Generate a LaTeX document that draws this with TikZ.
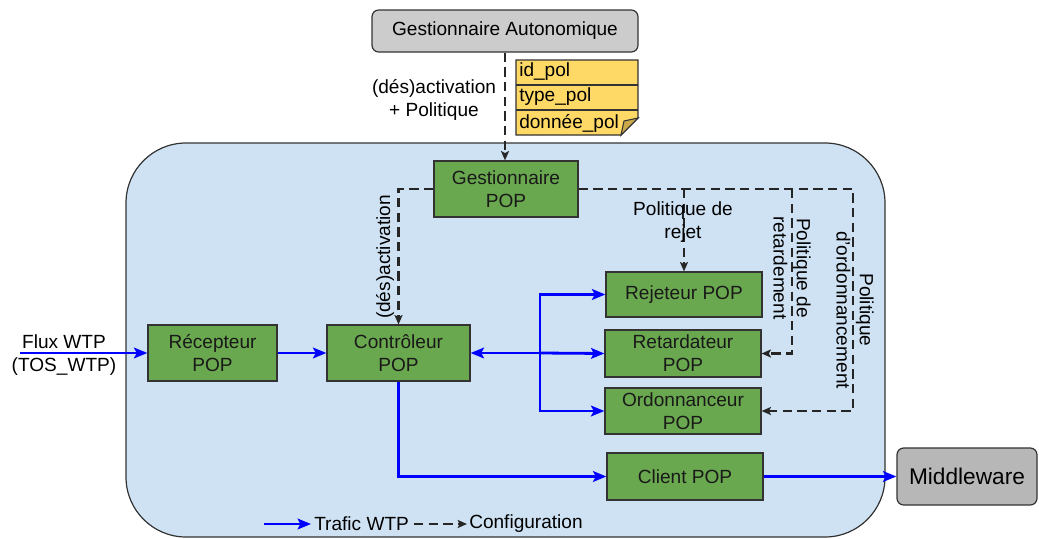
\documentclass[tikz,border=0pt]{standalone}
\usepackage{fontspec}
\setmainfont{Liberation Sans}
\usetikzlibrary{arrows.meta,calc}
\definecolor{popgreen}{HTML}{6AA84F}
\definecolor{bgblue}{HTML}{CFE2F3}
\definecolor{notey}{HTML}{FFD966}
\definecolor{notefold}{HTML}{C9A94A}
\definecolor{gaGray}{HTML}{CCCCCC}
\definecolor{mwGray}{HTML}{B7B7B7}
\definecolor{edge}{HTML}{333333}
\begin{document}
\begin{tikzpicture}[x=0.75pt,y=-0.75pt,
  font=\fontsize{14.3}{17.5}\selectfont,
  pop/.style={draw=edge, line width=0.9pt, fill=popgreen, align=center, inner sep=0pt, text=black!90},
  graybox/.style={draw=edge, line width=0.9pt, rounded corners=5pt, align=center, inner sep=0pt},
  traffic/.style={draw=blue, line width=2.1pt, -{Stealth[length=10pt,width=8pt,inset=2pt]}},
  config/.style={draw=black!85, line width=1.7pt, dash pattern=on 7pt off 4pt, -{Stealth[length=7pt,width=6pt,inset=1.5pt]}},
  lbl/.style={align=center, inner sep=0pt}
]
\useasboundingbox (0,0) rectangle (1039,539);
% background container
\draw[fill=bgblue, draw=edge, line width=0.9pt, rounded corners=45pt] (126,143) rectangle (885,537);

% gray boxes
\node[graybox, fill=gaGray, minimum width=199.5pt, minimum height=31.5pt] (ga) at (505,31) {Gestionnaire Autonomique};
\node[graybox, fill=mwGray, minimum width=105pt, minimum height=42.75pt, font=\fontsize{17}{19}\selectfont] (mw) at (967,476.5) {Middleware};

% yellow note
\filldraw[fill=notey, draw=edge, line width=0.9pt] (516,60) -- (638,60) -- (638,118) -- (621,135) -- (516,135) -- cycle;
\draw[edge, line width=0.8pt] (516,85) -- (638,85);
\draw[edge, line width=0.8pt] (516,110) -- (638,110);
\filldraw[fill=notefold, draw=edge, line width=0.8pt] (638,118) -- (624,121) -- (621,135) -- cycle;
\node[anchor=west, inner sep=0pt] (np1) at (519,72) {id\_pol};
\node[anchor=west, inner sep=0pt] (np2) at (519,97) {type\_pol};
\node[anchor=west, inner sep=0pt] (np3) at (519,123) {donnée\_pol};

% green boxes
\node[pop, minimum width=108pt, minimum height=42pt] (gpop) at (506,189) {Gestionnaire\\POP};
\node[pop, minimum width=96.75pt, minimum height=42pt] (rec) at (212.5,353) {Récepteur\\POP};
\node[pop, minimum width=107.25pt, minimum height=42pt] (ctl) at (398.5,353) {Contrôleur\\POP};
\node[pop, minimum width=117pt, minimum height=33.75pt] (rej) at (684,294.5) {Rejeteur POP};
\node[pop, minimum width=117pt, minimum height=35.25pt] (ret) at (683,353.5) {Retardateur\\POP};
\node[pop, minimum width=117pt, minimum height=34.5pt] (ord) at (683,411) {Ordonnanceur\\POP};
\node[pop, minimum width=117pt, minimum height=35.25pt] (cli) at (685,476.5) {Client POP};

% configuration (dashed) connectors
\draw[config] (ga.south) -- (ga.south |- gpop.north);
\draw[config] (gpop.west) -| (ctl.north);
\coordinate (cr) at (853,189);
\draw[config] (gpop.east) -- (cr) |- (ord.east);
\draw[config] (rej.north |- gpop.east) -- (rej.north);
\coordinate (jr) at (792,189);
\draw[config] (jr) |- (ret.east);

% configuration labels
\node[lbl] (l0) at (434,100) {(dés)activation\\+ Politique};
\node[lbl, rotate=90] (l1) at (385,257) {(dés)activation};
\node[lbl] (l2) at (683,222) {Politique de\\rejet};
\node[lbl, rotate=-90] (l3) at (792,268) {Politique de\\retardement};
\node[lbl, rotate=-90] (l4) at (855,310) {Politique\\d'ordonnancement};

% traffic connectors
\coordinate (fin) at (20,353);
\node[lbl] (flux) at (64,355) {Flux WTP\\(TOS\_WTP)};
\draw[traffic] (fin) -- (rec.west);
\draw[traffic] (rec.east) -- (ctl.west);
\coordinate (bj) at (540,353);
\draw[traffic] (bj) -- (ctl.east);
\draw[traffic] (bj) |- (rej.west);
\draw[traffic] (bj) -- (ret.west);
\draw[traffic] (bj) |- (ord.west);
\draw[traffic] (ctl.south) |- (cli.west);
\draw[traffic] (cli.east) -- (mw.west);

% legend
\coordinate (la1) at (264,524);
\coordinate (la2) at (311,524);
\draw[traffic] (la1) -- (la2);
\node[anchor=west, inner sep=0pt] (lt1) at (314,524) {Trafic WTP};
\coordinate (lb1) at (414,524);
\coordinate (lb2) at (467,524);
\draw[config] (lb1) -- (lb2);
\node[anchor=west, inner sep=0pt] (lt2) at (469,524) {Configuration};
\end{tikzpicture}
\end{document}
